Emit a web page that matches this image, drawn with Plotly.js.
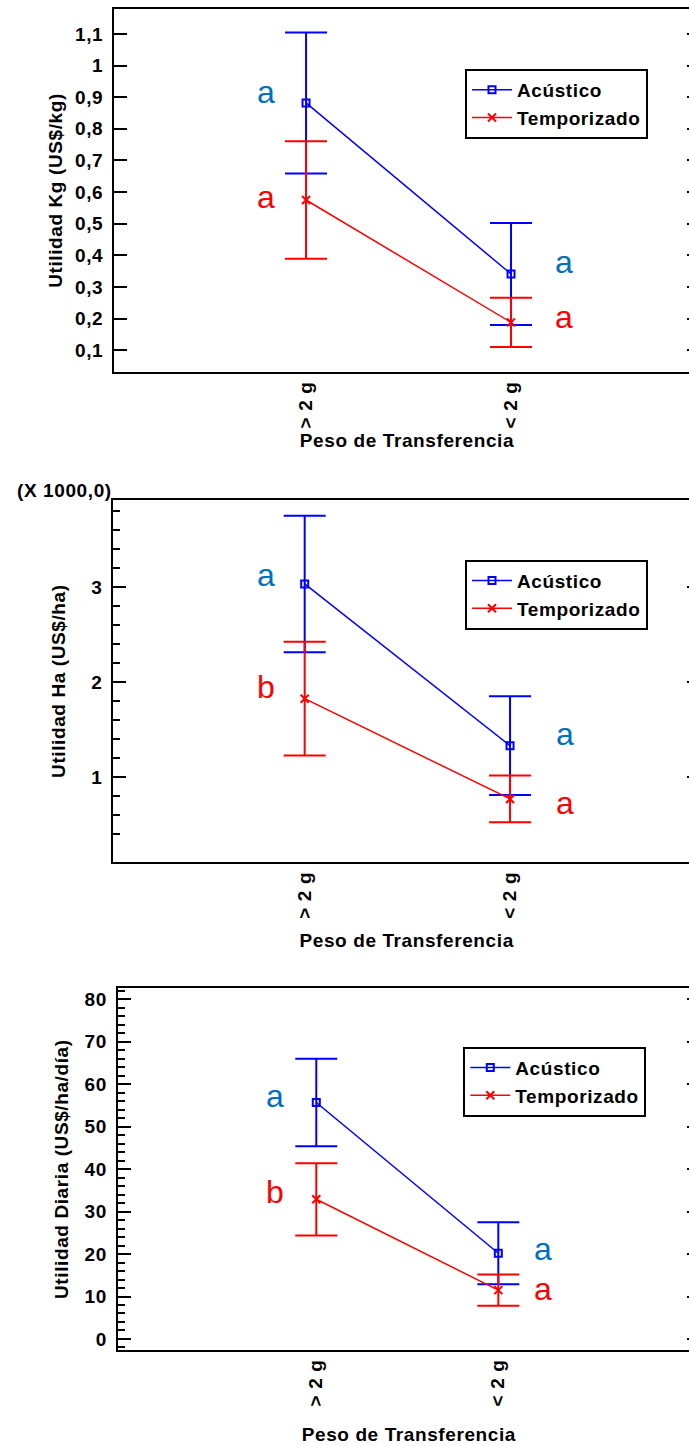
<!DOCTYPE html>
<html>
<head>
<meta charset="utf-8">
<script src="https://cdn.plot.ly/plotly-3.0.1.min.js"></script>
<style>
  html, body { margin: 0; padding: 0; background: #ffffff; overflow: hidden; }
  #chart { width: 700px; height: 1446px; }
  text { letter-spacing: 0.6px; }
</style>
</head>
<body>
<div id="chart"></div>
<script>
// ---------------- DATA ----------------
const categories = ["> 2 g", "< 2 g"];
const seriesNames = ["Acústico", "Temporizado"];

// Utilidad Kg (US$/kg)
const kgAcustico = [0.882, 0.341];
const kgAcusticoErr = [0.223, 0.161];
const kgTemporizado = [0.575, 0.188];
const kgTemporizadoErr = [0.186, 0.078];
const kgLettersAcustico = ["a", "a"];
const kgLettersTemporizado = ["a", "a"];

// Utilidad Ha (US$/ha), in thousands (X 1000,0)
const haAcustico = [3.035, 1.33];
const haAcusticoErr = [0.72, 0.52];
const haTemporizado = [1.825, 0.768];
const haTemporizadoErr = [0.60, 0.247];
const haLettersAcustico = ["a", "a"];
const haLettersTemporizado = ["b", "a"];

// Utilidad Diaria (US$/ha/día)
const diaAcustico = [55.7, 20.2];
const diaAcusticoErr = [10.3, 7.3];
const diaTemporizado = [32.9, 11.5];
const diaTemporizadoErr = [8.5, 3.7];
const diaLettersAcustico = ["a", "a"];
const diaLettersTemporizado = ["b", "a"];

const yTitles = ["Utilidad Kg (US$/kg)", "Utilidad Ha (US$/ha)", "Utilidad Diaria (US$/ha/día)"];
const xTitle = "Peso de Transferencia";
const scaleNote = "(X 1000,0)";

// ---------------- STYLE / LAYOUT ----------------
const W = 700, H = 1446, ML = 100;
const px2x = p => (p - ML) / (W - ML);
const px2y = p => 1 - p / H;

const BLUE = "#0000FF", RED = "#FF0000", LBLUE = "#0070C0";
const FONT = "Liberation Sans, Arial, sans-serif";
const boldFont = {family: FONT, size: 19, color: "#000000", weight: "bold"};

const panels = [
  {
    ac: kgAcustico, acE: kgAcusticoErr, te: kgTemporizado, teE: kgTemporizadoErr,
    acL: kgLettersAcustico, teL: kgLettersTemporizado,
    plotLeft: 114, plotTop: 9, plotBottom: 372, xrange: [-0.937, 1.922],
    yrange: [0.031, 1.179], tick0: 0.1, dtick: 0.1, minor: null,
    legendX: 465, legendY: 69, xStandoff: 6, yStandoff: 7,
    letterDx: [-40, 53], acDy: [8, 9], teDy: [0, 2]
  },
  {
    ac: haAcustico, acE: haAcusticoErr, te: haTemporizado, teE: haTemporizadoErr,
    acL: haLettersAcustico, teL: haLettersTemporizado,
    plotLeft: 113.3, plotTop: 500, plotBottom: 862.3, xrange: [-0.932, 1.925],
    yrange: [0.10, 3.92], tick0: 0, dtick: 1,
    minor: {tickvals: [0.4, 0.6, 0.8, 1.2, 1.4, 1.6, 1.8, 2.2, 2.4, 2.6, 2.8, 3.2, 3.4, 3.6, 3.8]},
    legendX: 465, legendY: 559.7, xStandoff: 16, yStandoff: 21,
    letterDx: [-39, 55], acDy: [6, 9], teDy: [12, -7]
  },
  {
    ac: diaAcustico, acE: diaAcusticoErr, te: diaTemporizado, teE: diaTemporizadoErr,
    acL: diaLettersAcustico, teL: diaLettersTemporizado,
    plotLeft: 117.7, plotTop: 988.3, plotBottom: 1350, xrange: [-1.091, 2.108],
    yrange: [-2.6, 82.6], tick0: 0, dtick: 10, minor: {dtick: 2},
    legendX: 463.3, legendY: 1046.7, xStandoff: 22, yStandoff: 11,
    letterDx: [-41, 45], acDy: [4, 1], teDy: [7, -2]
  }
];

const traces = [];
const annotations = [];
const layout = {
  width: W, height: H,
  margin: {l: ML, r: 0, t: 0, b: 0, pad: 0},
  paper_bgcolor: "#ffffff", plot_bgcolor: "#ffffff",
  separators: ",.",
  font: {family: FONT, size: 19, color: "#000000"},
  annotations: annotations
};

function glyphCorr(letter) { return letter === "a" ? 3 : 0; }

panels.forEach((p, i) => {
  const n = i + 1;
  const xa = n === 1 ? "x" : "x" + n;
  const ya = n === 1 ? "y" : "y" + n;
  const yr = "y" + (n + 3);
  const lg = n === 1 ? "legend" : "legend" + n;
  const xKey = n === 1 ? "xaxis" : "xaxis" + n;
  const yKey = n === 1 ? "yaxis" : "yaxis" + n;

  traces.push({
    type: "scatter", mode: "lines+markers", x: categories, y: p.ac,
    name: seriesNames[0], xaxis: xa, yaxis: ya, legend: lg,
    line: {color: BLUE, width: 1.5},
    marker: {symbol: "square-open", size: 7, color: BLUE, line: {color: BLUE, width: 2}},
    error_y: {type: "data", array: p.acE, visible: true, color: BLUE, thickness: 2, width: 21},
    hoverinfo: "x+y+name"
  });
  traces.push({
    type: "scatter", mode: "lines+markers", x: categories, y: p.te,
    name: seriesNames[1], xaxis: xa, yaxis: ya, legend: lg,
    line: {color: RED, width: 1.5},
    marker: {symbol: "x-thin", size: 8, color: RED, line: {color: RED, width: 2}},
    error_y: {type: "data", array: p.teE, visible: true, color: RED, thickness: 2, width: 21},
    hoverinfo: "x+y+name"
  });
  // empty trace to register the right-hand tick axis
  traces.push({type: "scatter", x: [], y: [], xaxis: xa, yaxis: yr, showlegend: false, hoverinfo: "skip"});

  const dom = [px2y(p.plotBottom), px2y(p.plotTop)];
  layout[xKey] = {
    domain: [px2x(p.plotLeft), 1], anchor: ya, type: "category",
    range: p.xrange, showline: true, linewidth: 2, linecolor: "#000000", mirror: true,
    ticks: "", tickangle: -90, tickfont: boldFont, showgrid: false, zeroline: false,
    ticklabelstandoff: 0,
    title: {text: xTitle, font: boldFont, standoff: p.xStandoff}
  };
  const yax = {
    domain: dom, anchor: xa, range: p.yrange, tick0: p.tick0, dtick: p.dtick,
    ticks: "inside", ticklen: 13, tickwidth: 2, tickcolor: "#000000",
    showline: true, linewidth: 2, linecolor: "#000000",
    showgrid: false, zeroline: false, tickfont: boldFont, ticklabelstandoff: 5,
    title: {text: yTitles[i], font: boldFont, standoff: p.yStandoff}
  };
  if (p.minor) {
    yax.minor = Object.assign({ticks: "inside", ticklen: 7, tickwidth: 2, tickcolor: "#000000", showgrid: false}, p.minor);
  }
  layout[yKey] = yax;
  layout["yaxis" + (n + 3)] = {
    overlaying: ya, side: "right", anchor: xa, range: p.yrange, tick0: p.tick0, dtick: p.dtick,
    ticks: "inside", ticklen: 13, tickwidth: 2, tickcolor: "#000000",
    showticklabels: false, showline: false, showgrid: false, zeroline: false
  };
  layout[lg] = {
    x: px2x(p.legendX), y: px2y(p.legendY), xanchor: "left", yanchor: "top",
    bgcolor: "#ffffff", bordercolor: "#000000", borderwidth: 2,
    font: boldFont, tracegroupgap: 0, itemwidth: 40
  };

  // significance letters, positioned next to each mean
  categories.forEach((c, k) => {
    annotations.push({
      xref: xa, yref: ya, x: c, y: p.ac[k], text: p.acL[k], showarrow: false,
      xshift: p.letterDx[k], yshift: p.acDy[k] + glyphCorr(p.acL[k]),
      font: {family: FONT, size: 32, color: LBLUE}
    });
    annotations.push({
      xref: xa, yref: ya, x: c, y: p.te[k], text: p.teL[k], showarrow: false,
      xshift: p.letterDx[k], yshift: p.teDy[k] + glyphCorr(p.teL[k]),
      font: {family: FONT, size: 32, color: RED}
    });
  });
});

annotations.push({
  xref: "paper", yref: "paper", x: px2x(15), y: px2y(490.7), xanchor: "left", yanchor: "middle",
  text: scaleNote, showarrow: false, font: boldFont
});

Plotly.newPlot("chart", traces, layout, {displayModeBar: false});
</script>
</body>
</html>
